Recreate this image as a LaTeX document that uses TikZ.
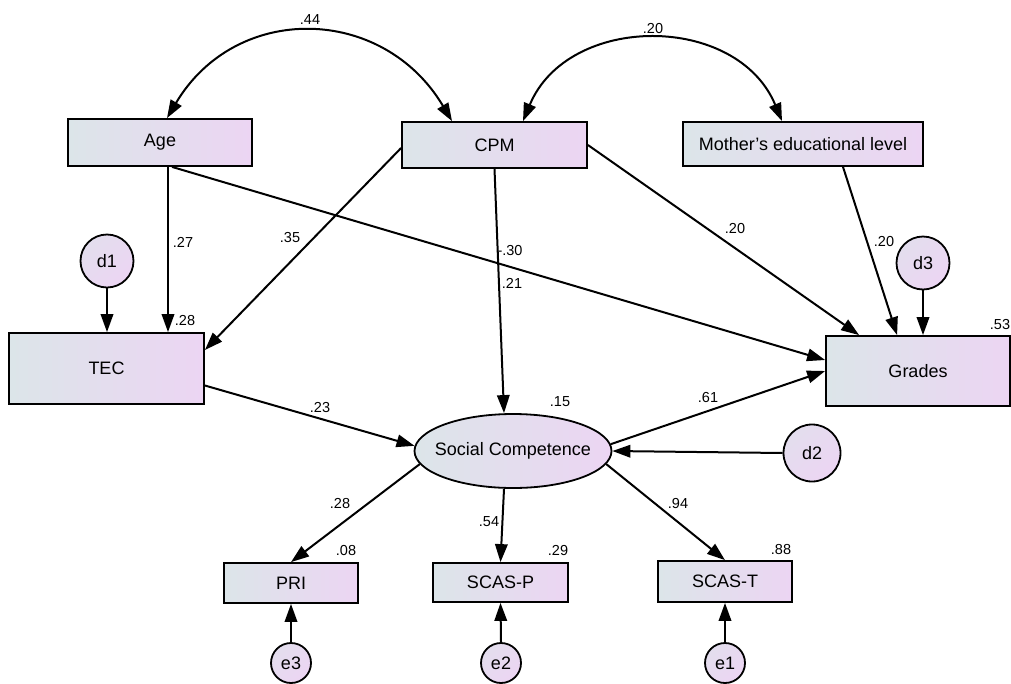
\documentclass[tikz,border=0pt]{standalone}
\usepackage{fontspec}
\setmainfont{Liberation Sans}
\usetikzlibrary{arrows.meta,shapes.geometric,calc}
\definecolor{gl}{RGB}{220,229,233}
\definecolor{gr}{RGB}{236,213,243}
\tikzset{
  obs/.style={rectangle, draw=black, line width=1.8pt, left color=gl, right color=gr,
    inner sep=0pt, font=\fontsize{18}{20}\selectfont},
  lat/.style={ellipse, draw=black, line width=1.8pt, left color=gl, right color=gr,
    inner ysep=0pt, inner xsep=-12pt, font=\fontsize{18}{20}\selectfont},
  err/.style={circle, draw=black, line width=1.8pt, left color=gl!55!gr, right color=gr,
    shading angle=45, inner sep=0pt, font=\fontsize{18}{20}\selectfont},
  tip/.tip={Triangle[length=18pt,width=12.5pt]},
  pth/.style={line width=2pt, -tip},
  cov/.style={line width=2pt, tip-tip},
  lbl/.style={inner sep=0pt, font=\fontsize{14.5}{16}\selectfont}
}
\begin{document}
\begin{tikzpicture}[x=1pt,y=-1pt]
\useasboundingbox (0,0) rectangle (1011,683);
% observed / latent variables
\node[obs, minimum width=184pt, minimum height=47pt] (age) at (160,142.5) {Age};
\node[obs, minimum width=185pt, minimum height=46pt] (cpm) at (494.5,145) {CPM};
\node[obs, minimum width=240pt, minimum height=44pt] (mother) at (803,144) {Mother's educational level};
\node[obs, minimum width=195pt, minimum height=71pt] (tec) at (106.5,368.5) {TEC};
\node[obs, minimum width=184pt, minimum height=70pt] (grades) at (918,371) {Grades};
\node[lat, minimum width=197pt, minimum height=74pt] (sc) at (513,451) {Social Competence};
\node[obs, minimum width=134pt, minimum height=40pt] (pri) at (291,583) {PRI};
\node[obs, minimum width=135pt, minimum height=39pt] (scasp) at (500.5,582.5) {SCAS-P};
\node[obs, minimum width=134pt, minimum height=41pt] (scast) at (725,581.5) {SCAS-T};
% error terms
\node[err, minimum size=53pt] (d1) at (107,261) {d1};
\node[err, minimum size=53pt] (d3) at (923,263) {d3};
\node[err, minimum size=57pt] (d2) at (812,453) {d2};
\node[err, minimum size=40pt] (e3) at (291,663) {e3};
\node[err, minimum size=40pt] (e2) at (501,663) {e2};
\node[err, minimum size=40pt] (e1) at (725,663) {e1};
% covariances
\draw[cov] ([xshift=7pt]age.north) .. controls (236,2) and (383,5) .. ([xshift=-42.5pt]cpm.north);
\draw[cov] ([xshift=28.5pt]cpm.north) .. controls (568,13) and (737,13) .. ([xshift=-21pt]mother.north);
% paths
\draw[pth] ([xshift=8pt]age.south) -- ([xshift=61.5pt]tec.north);
\draw[pth] (d1.south) -- (d1.south |- tec.north);
\draw[pth] ([yshift=-3pt]cpm.west) -- ([yshift=18.5pt]tec.east);
\draw[pth] ([xshift=12pt]age.south) -- ([yshift=11pt]grades.west);
\draw[pth] (cpm.south) -- ([xshift=-9pt]sc.north);
\draw[pth] (cpm.east) -- ([xshift=34pt]grades.north west);
\draw[pth] ([xshift=40pt]mother.south) -- ([xshift=72pt]grades.north west);
\draw[pth] (d3.south) -- (d3.south |- grades.north);
\draw[pth] ([yshift=-17pt]tec.east) -- (sc.177);
\draw[pth] (sc.4) -- (grades.west);
\draw[pth] (d2.west) -- (sc.east);
\draw[pth] (sc.188) -- (pri.north);
\draw[pth] ([xshift=-9pt]sc.south) -- (scasp.north);
\draw[pth] (sc.-8) -- (scast.north);
\draw[pth] (e3.north) -- (pri.south);
\draw[pth] (e2.north) -- (scasp.south);
\draw[pth] (e1.north) -- (scast.south);
% labels
\node[lbl] (l1) at (310,20) {.44};
\node[lbl] (l2) at (653,29) {.20};
\node[lbl] (l3) at (183,242) {.27};
\node[lbl] (l4) at (185,321) {.28};
\node[lbl] (l5) at (290,238) {.35};
\node[lbl] (l6) at (510,251) {-.30};
\node[lbl] (l7) at (512,283) {.21};
\node[lbl] (l8) at (735,229) {.20};
\node[lbl] (l9) at (884,242) {.20};
\node[lbl] (l10) at (1000,325) {.53};
\node[lbl] (l11) at (320,407) {.23};
\node[lbl] (l12) at (560,402) {.15};
\node[lbl] (l13) at (708,397) {.61};
\node[lbl] (l14) at (340,503) {.28};
\node[lbl] (l15) at (346,550) {.08};
\node[lbl] (l16) at (489,522) {.54};
\node[lbl] (l17) at (558,550) {.29};
\node[lbl] (l18) at (678,503) {.94};
\node[lbl] (l19) at (781,549) {.88};
\end{tikzpicture}
\end{document}
